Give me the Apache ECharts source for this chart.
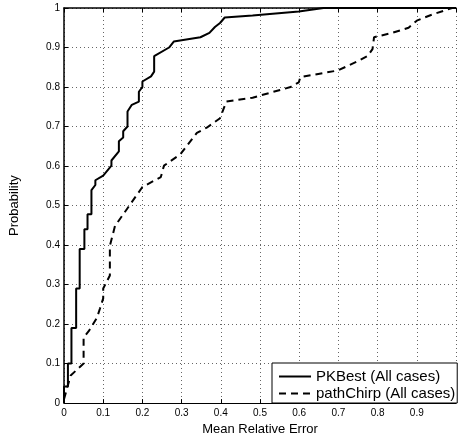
<!DOCTYPE html>
<html>
<head>
<meta charset="UTF-8">
<title>CDF of mean relative error</title>
<script src="https://cdn.jsdelivr.net/npm/echarts@6/dist/echarts.min.js"></script>
</head>
<body style="margin:0">
	<div id="main" style="width: 459px; height: 441px;"></div>

	<script type="text/javascript">
		// tick labels
		var xTicks = ['0', '0.1', '0.2', '0.3', '0.4', '0.5', '0.6', '0.7', '0.8', '0.9'];
		var yTicks = ['0', '0.1', '0.2', '0.3', '0.4', '0.5', '0.6', '0.7', '0.8', '0.9', '1'];

		// PKBest (All cases)
		var pkX = [0, 0, 0.01, 0.01, 0.019, 0.019, 0.031, 0.031, 0.04, 0.04, 0.052, 0.052, 0.06, 0.06,
			0.07, 0.07, 0.08, 0.08, 0.1, 0.121, 0.121, 0.14, 0.14, 0.151, 0.151, 0.162, 0.162, 0.173,
			0.191, 0.191, 0.2, 0.2, 0.222, 0.23, 0.23, 0.268, 0.28, 0.348, 0.371, 0.385, 0.398, 0.41,
			0.481, 0.599, 0.662, 1];
		var pkY = [0, 0.042, 0.042, 0.1, 0.1, 0.19, 0.19, 0.29, 0.29, 0.39, 0.39, 0.44, 0.44, 0.478,
			0.478, 0.539, 0.552, 0.564, 0.576, 0.601, 0.614, 0.637, 0.663, 0.672, 0.688, 0.70, 0.738, 0.755,
			0.763, 0.788, 0.80, 0.814, 0.827, 0.839, 0.878, 0.90, 0.915, 0.926, 0.937, 0.952, 0.962, 0.976,
			0.981, 0.991, 1, 1];

		// pathChirp (All cases)
		var pcX = [0, 0.017, 0.05, 0.05, 0.063, 0.084, 0.092, 0.1, 0.1, 0.117, 0.117, 0.13, 0.188, 0.2,
			0.247, 0.255, 0.297, 0.339, 0.364, 0.398, 0.414, 0.481, 0.578, 0.599, 0.603, 0.699, 0.753,
			0.775, 0.787, 0.791, 0.837, 0.879, 0.9, 0.938, 0.99];
		var pcY = [0.01, 0.07, 0.1, 0.166, 0.182, 0.216, 0.24, 0.265, 0.29, 0.323, 0.398, 0.448, 0.53, 0.547,
			0.572, 0.601, 0.63, 0.684, 0.697, 0.721, 0.763, 0.773, 0.80, 0.812, 0.825, 0.842, 0.867,
			0.879, 0.896, 0.926, 0.937, 0.95, 0.968, 0.983, 1];

		function zip(xs, ys) {
			var out = [];
			for (var i = 0; i < xs.length; i++) out.push([xs[i], ys[i]]);
			return out;
		}

		var font = 'Liberation Sans, Arial, Helvetica, sans-serif';
		var grid = { type: [1, 3], color: '#666', width: 1 };

		var myChart = echarts.init(document.getElementById('main'));
		myChart.setOption({
			animation : false,
			backgroundColor : '#fff',
			grid : { left : 64, right : -2, top : 8, bottom : 31.5 },
			legend : {
				orient : 'vertical',
				left : 272,
				top : 363,
				padding : [6, 2, 2, 6],
				itemGap : 2,
				itemWidth : 32,
				itemHeight : 15,
				borderColor : '#000',
				borderWidth : 1,
				backgroundColor : '#fff',
				itemStyle : { opacity : 0 },
				textStyle : { fontFamily : font, fontSize : 15, color : '#000' },
				data : [ 'PKBest (All cases)', 'pathChirp (All cases)' ]
			},
			xAxis : [ {
				type : 'value', min : 0, max : 1, interval : 0.1,
				name : 'Mean Relative Error', nameLocation : 'middle', nameGap : 17,
				nameTextStyle : { fontFamily : font, fontSize : 13, color : '#000' },
				axisLine : { lineStyle : { color : '#000', width : 1 } },
				axisTick : { inside : true, length : 4, lineStyle : { color : '#000' } },
				axisLabel : {
					margin : 5, fontFamily : font, fontSize : 10, color : '#000',
					formatter : function (v) { var i = Math.round(v * 10); return i < xTicks.length ? xTicks[i] : ''; }
				},
				splitLine : { lineStyle : grid }
			}, {
				type : 'value', min : 0, max : 1, interval : 0.1, position : 'top',
				axisLine : { lineStyle : { color : '#000', width : 1.5 } },
				axisTick : { inside : true, length : 4, lineStyle : { color : '#000' } },
				axisLabel : { show : false }, splitLine : { show : false }
			} ],
			yAxis : [ {
				type : 'value', min : 0, max : 1, interval : 0.1,
				name : 'Probability', nameLocation : 'middle', nameGap : 43,
				nameTextStyle : { fontFamily : font, fontSize : 13, color : '#000' },
				axisLine : { lineStyle : { color : '#000', width : 1.5 } },
				axisTick : { inside : true, length : 4, lineStyle : { color : '#000' } },
				axisLabel : {
					margin : 4, fontFamily : font, fontSize : 10, color : '#000',
					formatter : function (v) { return yTicks[Math.round(v * 10)]; }
				},
				splitLine : { lineStyle : grid }
			} ],
			series : [ {
				name : 'PKBest (All cases)',
				type : 'line',
				symbol : 'none',
				data : zip(pkX, pkY),
				lineStyle : { color : '#000', width : 2 },
				itemStyle : { color : '#000' }
			}, {
				name : 'pathChirp (All cases)',
				type : 'line',
				symbol : 'none',
				data : zip(pcX, pcY),
				lineStyle : { color : '#000', width : 2, type : [7, 5] },
				itemStyle : { color : '#000' }
			} ]
		});
	</script>
</body>
</html>
